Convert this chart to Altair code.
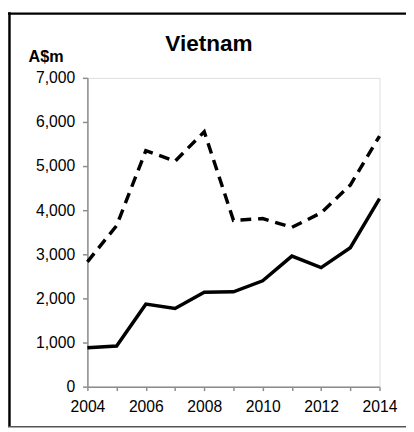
import altair as alt
import pandas as pd

years = [2004, 2005, 2006, 2007, 2008, 2009, 2010, 2011, 2012, 2013, 2014]
solid_vals = [880, 920, 1870, 1770, 2140, 2150, 2400, 2960, 2700, 3150, 4260]
dashed_vals = [2830, 3650, 5350, 5110, 5780, 3770, 3810, 3610, 3940, 4570, 5680]
series_names = ["solid", "dashed"]
y_ticks = [0, 1000, 2000, 3000, 4000, 5000, 6000, 7000]

rows = []
for name, vals in zip(series_names, [solid_vals, dashed_vals]):
    for yr, v in zip(years, vals):
        rows.append({"year": yr, "value": v, "series": name})
df = pd.DataFrame(rows)

FONT = "Liberation Sans"
AXIS_GRAY = "#8c8c8c"

x_enc = alt.X(
    "year:Q",
    scale=alt.Scale(domain=[2004, 2014], nice=False, zero=False),
    axis=alt.Axis(
        values=years,
        labelExpr="datum.value % 2 == 0 ? format(datum.value, 'd') : ''",
        labelOverlap=False,
        labelFlush=False,
        title=None,
        grid=False,
        domainColor=AXIS_GRAY,
        domainWidth=1.5,
        tickColor=AXIS_GRAY,
        tickWidth=1.5,
        tickSize=4,
        labelPadding=8,
        labelFont=FONT,
        labelFontSize=16,
        labelColor="#000000",
    ),
)
y_enc = alt.Y(
    "value:Q",
    scale=alt.Scale(domain=[0, 7000], nice=False),
    axis=alt.Axis(
        values=y_ticks,
        format=",.0f",
        labelFlush=False,
        title=None,
        grid=False,
        domainColor=AXIS_GRAY,
        domainWidth=1.5,
        tickColor=AXIS_GRAY,
        tickWidth=1.5,
        tickSize=5,
        labelPadding=8,
        labelFont=FONT,
        labelFontSize=16,
        labelColor="#000000",
    ),
)

solid = (
    alt.Chart(df)
    .transform_filter(alt.datum.series == "solid")
    .mark_line(color="black", strokeWidth=3.5, strokeCap="butt", strokeJoin="miter")
    .encode(x=x_enc, y=y_enc)
)
dashed = (
    alt.Chart(df)
    .transform_filter(alt.datum.series == "dashed")
    .mark_line(color="black", strokeWidth=3.5, strokeDash=[11, 7], strokeCap="butt")
    .encode(x=x_enc, y=y_enc)
)

title_txt = alt.Chart(pd.DataFrame({"t": ["Vietnam"]})).mark_text(
    font=FONT, fontSize=23, fontWeight="bold", color="black", align="center", baseline="alphabetic"
).encode(text="t:N", x=alt.value(124), y=alt.value(-27))

unit_txt = alt.Chart(pd.DataFrame({"t": ["A$m"]})).mark_text(
    font=FONT, fontSize=16.5, fontWeight="bold", color="black", align="left", baseline="alphabetic"
).encode(text="t:N", x=alt.value(-60), y=alt.value(-16))

# outer frame
frame_left = alt.Chart(pd.DataFrame({"a": [0]})).mark_rule(color="black", strokeWidth=2.5).encode(
    x=alt.value(-79.5), y=alt.value(-67), y2=alt.value(356)
)
frame_top = alt.Chart(pd.DataFrame({"a": [0]})).mark_rule(color="black", strokeWidth=2.5).encode(
    x=alt.value(-81), x2=alt.value(330), y=alt.value(-65.5)
)
frame_bottom = alt.Chart(pd.DataFrame({"a": [0]})).mark_rule(color="#555555", strokeWidth=1.5).encode(
    x=alt.value(-81), x2=alt.value(330), y=alt.value(356)
)

chart = (
    alt.layer(solid, dashed, title_txt, unit_txt, frame_left, frame_top, frame_bottom)
    .properties(
        width=298,
        height=315,
        padding={"left": 81, "top": 67, "right": 27, "bottom": 42},
        autosize=alt.AutoSizeParams(type="none"),
    )
    .configure_view(stroke=None)
    .configure(background="white")
)

chart.save("out.html", embed_options={"renderer": "svg", "actions": False})
